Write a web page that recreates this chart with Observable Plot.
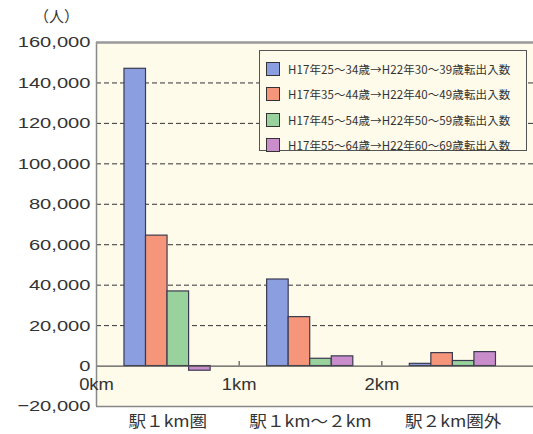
<!DOCTYPE html>
<html>
<head>
<meta charset="utf-8">
<script src="https://cdn.jsdelivr.net/npm/d3@7"></script>
<script src="https://cdn.jsdelivr.net/npm/@observablehq/plot@0.6"></script>
<style>
  html, body { margin: 0; padding: 0; background: #fff; }
  #chart { position: relative; width: 533px; height: 434px; overflow: hidden; }
  #unit { position: absolute; left: 34px; top: 5px; font: 15px "Noto Sans CJK JP", sans-serif; color: #333; }
  #legend { position: absolute; left: 259px; top: 50px; width: 268px; height: 101px; box-sizing: border-box;
            border: 1px solid #555; background: #fffbea; padding: 5px 0 0 6px; }
  .row { display: flex; align-items: center; height: 25.5px; }
  .sw { width: 14px; height: 14px; border: 1px solid #333; box-sizing: border-box; margin-right: 8px; }
  .lab { font: 11.5px "Noto Sans CJK JP", sans-serif; color: #333; white-space: nowrap; letter-spacing: 0.1px; }
</style>
</head>
<body>
<div id="chart"></div>
<script>
// Distance bands from the station
const categories = ["駅１km圏", "駅１km～２km", "駅２km圏外"];
// Cohort series (2005 age → 2010 age, net migration)
const seriesNames = [
  "H17年25～34歳→H22年30～39歳転出入数",
  "H17年35～44歳→H22年40～49歳転出入数",
  "H17年45～54歳→H22年50～59歳転出入数",
  "H17年55～64歳→H22年60～69歳転出入数"
];
const seriesColors = ["#8b9fe0", "#f5957a", "#99d29c", "#c98dcc"];
const age30s = [147000, 42800, 1100];
const age40s = [64500, 24200, 6400];
const age50s = [36900, 3600, 2500];
const age60s = [-2300, 4800, 6900];
const yTicks = [-20000, 0, 20000, 40000, 60000, 80000, 100000, 120000, 140000, 160000];
const kmTicks = [0, 1, 2];
const kmLabels = ["0km", "1km", "2km"];

const seriesValues = [age30s, age40s, age50s, age60s];
const barStart = 0.196, barWidth = 0.151;
const rows = [];
seriesValues.forEach((vals, s) => {
  vals.forEach((v, g) => {
    rows.push({
      x1: g + barStart + s * barWidth,
      x2: g + barStart + (s + 1) * barWidth,
      value: v,
      color: seriesColors[s]
    });
  });
});

const fmt = d3.format(",");

const chart = Plot.plot({
  width: 533,
  height: 434,
  marginLeft: 96,
  marginRight: 0,
  marginTop: 42,
  marginBottom: 28,
  style: { background: "transparent", fontFamily: "'Liberation Sans', Arial, sans-serif" },
  x: { type: "linear", domain: [0, 3.063], axis: null },
  y: { domain: [-20000, 160000], axis: null },
  marks: [
    Plot.frame({ fill: "#fffbea", stroke: null }),
    Plot.ruleY(yTicks.filter(d => d > 0 && d < 160000), { stroke: "#333", strokeDasharray: "5,3", strokeWidth: 1 }),
    Plot.rect(rows, { x1: "x1", x2: "x2", y1: 0, y2: "value", fill: "color", stroke: "#3b3b50", strokeWidth: 1.2 }),
    Plot.ruleY([0], { stroke: "#555", strokeWidth: 1.2 }),
    Plot.ruleX(kmTicks.filter(d => d > 0), { y1: 0, y2: 2200, stroke: "#555", strokeWidth: 1.2 }),
    Plot.ruleX([0], { stroke: "#888", strokeWidth: 1.5 }),
    Plot.ruleY([-20000], { stroke: "#888", strokeWidth: 1.5 }),
    Plot.ruleY([160000], { stroke: "#999", strokeWidth: 2.5 }),
    Plot.text(kmTicks, { x: d => d, y: 0, text: (d, i) => kmLabels[i], dy: 19, fontSize: 16, fill: "#333", ariaDescription: "km-label" }),
    Plot.text(yTicks, { x: 0, y: d => d, text: d => fmt(d), textAnchor: "end", dx: -6, fontSize: 15.5, fill: "#333", ariaDescription: "y-label" }),
    Plot.text(categories, { x: (d, i) => i + 0.5, y: -20000, text: d => d, dy: 15, fontSize: 16, fill: "#333",
      fontFamily: "'Noto Sans CJK JP', sans-serif", ariaDescription: "category-label" })
  ]
});

// Widen labels horizontally, about each label's own anchor point
function widen(selector, k) {
  d3.select(chart).selectAll(selector).each(function () {
    const x = +this.getAttribute("x") || 0;
    const prev = this.getAttribute("transform") || "";
    this.setAttribute("transform", `${prev} translate(${x},0) scale(${k},1) translate(${-x},0)`);
  });
}
widen('g[aria-description="y-label"] text', 1.3);
widen('g[aria-description="km-label"] text', 1.15);
widen('g[aria-description="category-label"] text', 1.1);

const root = document.getElementById("chart");
root.appendChild(chart);

const unit = document.createElement("div");
unit.id = "unit";
unit.textContent = "（人）";
root.appendChild(unit);

const legend = document.createElement("div");
legend.id = "legend";
seriesNames.forEach((name, i) => {
  const row = document.createElement("div");
  row.className = "row";
  const sw = document.createElement("div");
  sw.className = "sw";
  sw.style.background = seriesColors[i];
  const lab = document.createElement("span");
  lab.className = "lab";
  lab.textContent = name;
  row.appendChild(sw);
  row.appendChild(lab);
  legend.appendChild(row);
});
root.appendChild(legend);
</script>
</body>
</html>
